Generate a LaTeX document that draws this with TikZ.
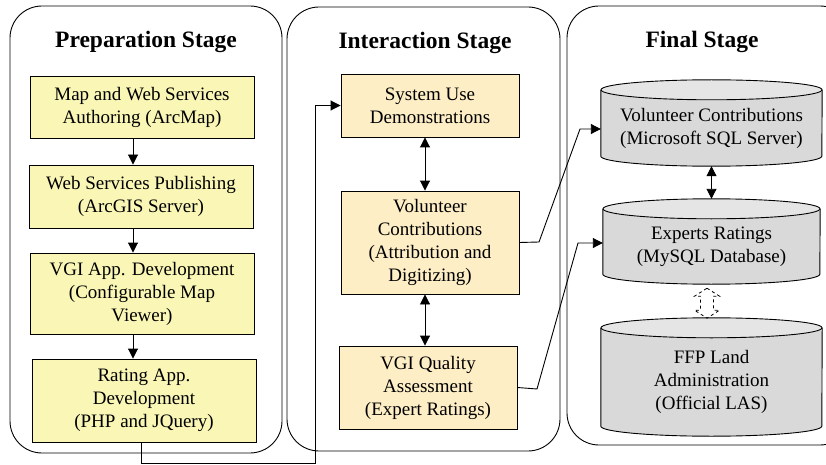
\documentclass[tikz,border=0pt]{standalone}
\usepackage{fontspec}
\setmainfont{Liberation Serif}
\usetikzlibrary{arrows.meta,backgrounds}
\definecolor{prepfill}{RGB}{250,247,182}
\definecolor{interfill}{RGB}{253,238,198}
\definecolor{dbbody}{RGB}{217,217,217}
\definecolor{dbtop}{RGB}{229,229,229}
\newcommand{\prepcolor}{prepfill}
\newcommand{\intercolor}{interfill}
\newcommand{\rimwidth}{0.9pt}
\newcommand{\capry}{10pt}
% cylinder round a node: north = centre of the top end, south = lowest point
\newcommand{\dbshape}[2]{%
  \filldraw[fill=dbbody,line width=\rimwidth] (#1.north west) -- ([yshift=\capry]#1.south west)
    arc[start angle=180,end angle=360,x radius=#2,y radius=\capry] -- (#1.north east);
  \filldraw[fill=dbtop,line width=\rimwidth] (#1.north) ellipse[x radius=#2,y radius=\capry];}

\begin{document}
\begin{tikzpicture}[x=1pt,y=-1pt,
  font=\fontsize{19}{23}\selectfont,
  stage/.style={draw,line width=\rimwidth,rounded corners=32pt},
  stagetitle/.style={font=\fontsize{23.5}{27}\selectfont\bfseries},
  prepbox/.style={draw,line width=\rimwidth,fill=\prepcolor,align=center,
    minimum width=224pt,inner sep=2pt},
  interbox/.style={draw,line width=\rimwidth,fill=\intercolor,align=center,
    minimum width=178pt,inner sep=2pt},
  dbstore/.style={align=center,inner sep=0pt,minimum width=221pt},
  flow/.style={line width=\rimwidth,-{Triangle[length=10pt,width=10pt]}},
  twoway/.style={line width=\rimwidth,{Triangle[length=10pt,width=10pt]}-{Triangle[length=10pt,width=10pt]}}]
\useasboundingbox (0,0) rectangle (826,465);
\clip (0,0) rectangle (826,465);
% stages
\draw[stage] (10,6) rectangle (282,453);
\draw[stage] (287,7) rectangle (560,451);
\draw[stage] (567,6) rectangle (852,445);
\node[stagetitle] (prept) at (146,42) {Preparation Stage};
\node[stagetitle] (intert) at (425,43) {Interaction Stage};
\node[stagetitle] (finalt) at (702,42) {Final Stage};
% preparation
\node[prepbox,minimum height=62pt] (author) at (142,107) {Map and Web Services\\Authoring (ArcMap)};
\node[prepbox,minimum height=63pt] (publish) at (141,196.5) {Web Services Publishing\\(ArcGIS Server)};
\node[prepbox,minimum height=81pt] (vgiapp) at (142,293.5) {VGI App. Development\\(Configurable Map\\Viewer)};
\node[prepbox,minimum height=83pt] (rateapp) at (144,400.5) {Rating App.\\Development\\(PHP and JQuery)};
% interaction
\node[interbox,minimum height=63pt] (demo) at (430,105.5) {System Use\\Demonstrations};
\node[interbox,minimum height=103pt] (contrib) at (430,242.5) {Volunteer\\Contributions\\(Attribution and\\Digitizing)};
\node[interbox,minimum height=83pt] (quality) at (428,387.5) {VGI Quality\\Assessment\\(Expert Ratings)};
% final
\node[dbstore,minimum height=76pt] (sqlsrv) at (711.5,128) {Volunteer Contributions\\(Microsoft SQL Server)};
\node[dbstore,minimum height=75pt,minimum width=217pt] (mysql) at (711.5,246.5) {Experts Ratings\\(MySQL Database)};
\node[dbstore,minimum height=108pt] (las) at (711.5,382) {FFP Land\\Administration\\(Official LAS)};
\begin{scope}[on background layer]
\dbshape{sqlsrv}{110.5pt}
\dbshape{mysql}{108.5pt}
\dbshape{las}{110.5pt}
\end{scope}
% hollow dashed link
\coordinate (link) at ([yshift=-4pt]mysql.south);
\draw[dashed,line width=0.8pt] ([xshift=-4.5pt]link) -- ++(12.5,8) -- ++(-6,0) -- ++(0,14) -- ++(6,0)
  -- ++(-12.5,8) -- ++(-12.5,-8) -- ++(6,0) -- ++(0,-14) -- ++(-6,0) -- cycle;
% connectors
\draw[flow] ([xshift=-9pt]author.south) -- ([xshift=-8pt]publish.north);
\draw[flow] ([xshift=-8pt]publish.south) -- ([xshift=-9pt]vgiapp.north);
\draw[flow] ([xshift=-9pt]vgiapp.south) -- ([xshift=-11pt]rateapp.north);
\draw[twoway] ([xshift=-5pt]demo.south) -- ([xshift=-5pt]contrib.north);
\draw[twoway] ([xshift=-5pt]contrib.south) -- ([xshift=-3pt]quality.north);
\draw[twoway] (sqlsrv.south) -- ([yshift=\capry]mysql.north);
\coordinate (lowturn) at (315,463);
\draw[flow] ([xshift=-3pt]rateapp.south) |- (lowturn) |- (demo.west);
\coordinate (bend1) at (539,242);
\coordinate (kink1) at (580,129);
\draw[flow] (contrib.east) -- (bend1) -- (kink1) -- (kink1 -| sqlsrv.west);
\coordinate (bend2) at (537,389);
\coordinate (kink2) at (578,243);
\draw[flow] (quality.east) -- (bend2) -- (kink2) -- (kink2 -| mysql.west);
\end{tikzpicture}
\end{document}
